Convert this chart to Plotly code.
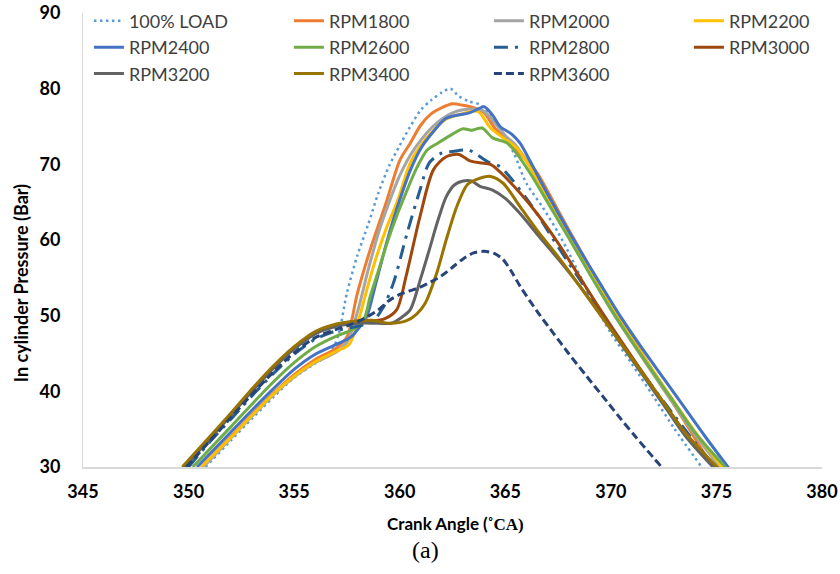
import plotly.graph_objects as go

# ---- data (crank angle in deg, pressure in bar) ----
LOAD100_X = [350.8, 352, 353, 354, 355, 356, 356.7, 357.1, 357.5, 358, 358.5, 359, 359.5, 360, 360.5, 361, 361.5, 362, 362.4, 362.8, 363.3, 363.8, 364.3, 364.8, 365.4, 366, 366.8, 367.5, 368.1, 369, 370, 371, 372, 373, 374.3]
LOAD100_Y = [30, 33.5, 36.4, 39.2, 41.8, 43.7, 45, 47.5, 53, 58, 62, 66.3, 69.8, 72.5, 75, 77.2, 78.5, 79.5, 80, 79, 78.3, 77.9, 76.5, 74.5, 71.5, 67.5, 64.2, 61, 57.8, 52.7, 47.7, 43.6, 39.4, 35.1, 30]

RPM1800_X = [350.6, 352, 353, 354, 355, 356, 357, 357.5, 358, 358.6, 359.4, 360, 360.5, 361, 361.5, 362, 362.5, 363, 363.5, 364, 364.5, 365.2, 366, 366.5, 367.5, 368.5, 369.5, 370.5, 371.5, 372.5, 373.5, 374.7]
RPM1800_Y = [30, 34, 36.9, 39.7, 42.2, 44.2, 45.7, 47.2, 53, 58.7, 65.3, 70.5, 72.8, 75.2, 76.7, 77.5, 78, 77.8, 77.5, 76.8, 74.8, 72.8, 70.5, 68.9, 63.9, 58.9, 54, 49.3, 44.9, 40.4, 36, 30.5]

RPM2000_X = [350.7, 352, 353, 354, 355, 356, 357, 357.5, 358, 358.5, 359, 359.5, 360, 360.5, 361, 361.5, 362, 362.5, 363, 363.5, 364, 364.5, 365, 365.5, 366, 367, 368, 369, 370, 371, 372, 373, 374, 375.3]
RPM2000_Y = [30, 33.8, 36.7, 39.5, 41.9, 43.8, 45.2, 46.5, 50.5, 56, 61, 65, 68.5, 71.2, 73.2, 74.8, 76, 76.8, 77.2, 77.3, 77, 75.5, 73.8, 72.5, 70.5, 65.5, 60.5, 55.6, 50.8, 46.5, 42.3, 38.2, 34.2, 29.5]

RPM2200_X = [350.6, 352, 353, 354, 355, 356, 357, 357.6, 358.1, 358.5, 358.9, 359.4, 359.9, 360.5, 361, 361.5, 362.2, 363, 363.7, 364.3, 365, 365.6, 366.2, 367, 368, 369, 370, 371, 372, 373, 374, 375.4]
RPM2200_Y = [30, 33.9, 36.8, 39.6, 42, 43.9, 45.3, 46.2, 49.9, 54, 57.8, 61.8, 65.2, 70.2, 72.5, 74.2, 76, 76.7, 77, 74.8, 73.3, 72, 69.5, 65.5, 60.8, 56, 51.3, 46.9, 42.7, 38.6, 34.6, 29.5]

RPM2400_X = [350.4, 352, 353, 354, 355, 356, 357, 357.7, 358.1, 358.44, 358.8, 359.2, 359.6, 360, 360.5, 361, 361.5, 362.2, 363.3, 363.7, 364, 364.4, 364.75, 365.3, 365.7, 366.2, 366.65, 367.5, 368.5, 369.5, 370.5, 371.5, 372.5, 373.5, 374.5, 375.6]
RPM2400_Y = [30, 34.6, 37.5, 40.3, 42.9, 44.9, 46.2, 47.2, 48.5, 49.9, 53.5, 57.8, 61.8, 65.3, 69.2, 72.1, 74, 76.1, 76.8, 77.3, 77.6, 76.5, 75, 74, 72.8, 70.3, 67.9, 63.6, 58.8, 54.2, 49.7, 45.6, 41.7, 37.8, 33.9, 29.8]

RPM2600_X = [350.2, 352, 353, 354, 355, 356, 357, 357.8, 358.3, 358.6, 359, 359.4, 359.9, 360.35, 360.8, 361.3, 361.8, 362.5, 363, 363.4, 363.9, 364.4, 365.1, 365.7, 366.3, 367, 368, 369, 370, 371, 372, 373, 374, 375.55]
RPM2600_Y = [30, 35.3, 38.3, 41.2, 43.8, 45.9, 47.3, 48.2, 49.5, 52.5, 56, 59.6, 63.5, 66.6, 69.5, 71.9, 72.8, 74, 74.7, 74.5, 74.8, 73.5, 72.8, 70.8, 68.3, 65, 60.3, 55.5, 50.9, 46.6, 42.5, 38.5, 34.5, 29.6]

RPM2800_X = [350, 351, 352, 353, 354, 355, 356, 357, 358, 358.7, 359.2, 359.7, 360.35, 360.96, 361.4, 362, 362.5, 363.25, 363.7, 364.2, 364.75, 365.2, 366, 366.5, 367.2, 367.9, 369, 370, 371, 372, 373, 374, 375.1]
RPM2800_Y = [30, 33.3, 36.3, 39.4, 42.3, 44.9, 46.9, 48, 48.6, 49.2, 51, 54.3, 60.9, 66.6, 70.2, 71.5, 71.7, 71.9, 71.2, 70.3, 69.7, 68.4, 65.5, 63.5, 60.4, 57.4, 52.8, 48.5, 44.4, 40.5, 36.8, 33.2, 29.5]

RPM3000_X = [349.75, 351, 352, 353, 354, 355, 356, 357, 358, 358.7, 359.3, 359.86, 360.3, 360.96, 361.6, 362.2, 362.8, 363.3, 363.8, 364.3, 364.75, 365.7, 366.5, 367.5, 368.5, 369.5, 370.5, 371.5, 372.5, 373.5, 375.1]
RPM3000_Y = [30, 33.8, 36.9, 40.1, 43.1, 45.7, 47.7, 48.8, 49.3, 49.3, 49.6, 50.8, 55.2, 63.1, 69.3, 71, 71.3, 70.5, 70.2, 70, 69, 66.2, 63.5, 59.6, 55.2, 50.8, 46.6, 42.5, 38.5, 34.6, 29.5]

RPM3200_X = [349.8, 351, 352, 353, 354, 355, 356, 357, 358, 359, 359.6, 360.1, 360.5, 361, 361.4, 361.8, 362.2, 362.6, 363, 363.4, 363.8, 364.4, 365, 365.7, 366.5, 367.5, 368.5, 369.5, 370.5, 371.5, 372.5, 373.5, 375]
RPM3200_Y = [30, 33.7, 36.8, 40, 43, 45.6, 47.6, 48.6, 49, 49, 49, 49.8, 50.8, 55, 58.7, 62.5, 65.7, 67.3, 67.8, 67.8, 67.1, 66.6, 65.5, 63.5, 60.8, 57.5, 54, 50.2, 46.2, 42.2, 38.2, 34.2, 29.5]

RPM3400_X = [349.7, 351, 352, 353, 354, 355, 356, 357, 358, 358.7, 359.5, 360.3, 360.8, 361.2, 361.75, 362.2, 362.7, 363.2, 363.65, 364.3, 364.9, 365.7, 366.5, 367.5, 368.5, 369.5, 370.5, 371.5, 372.5, 373.5, 375.2]
RPM3400_Y = [30, 34, 37.1, 40.3, 43.3, 45.9, 47.9, 48.9, 49.3, 49.4, 49, 49.3, 50.2, 51.6, 55.6, 60, 64.4, 67.3, 68, 68.4, 67.5, 64.4, 61.3, 57.8, 54, 50.1, 46.3, 42.4, 38.5, 34.6, 29.5]

RPM3600_X = [349.9, 351, 352, 353, 354, 355, 356, 357, 357.65, 358.3, 359, 359.5, 360, 360.5, 361, 361.5, 362, 362.5, 363, 363.5, 364, 364.5, 364.9, 365.3, 365.7, 366.5, 367.3, 368, 368.85, 369.6, 370.4, 371.2, 372.4]
RPM3600_Y = [30, 33.4, 36.5, 39.6, 42.5, 45.1, 47.1, 48.2, 48.8, 49.6, 50.8, 52, 52.8, 53.3, 53.8, 54.5, 55.3, 56.4, 57.5, 58.3, 58.5, 58.2, 57.4, 55.8, 53.9, 50.6, 47.6, 45, 42, 39.4, 36.6, 33.9, 30]

SERIES_NAMES = ["100% LOAD", "RPM1800", "RPM2000", "RPM2200", "RPM2400", "RPM2600",
                "RPM2800", "RPM3000", "RPM3200", "RPM3400", "RPM3600"]
X_TICKS = [345, 350, 355, 360, 365, 370, 375, 380]
Y_TICKS = [30, 40, 50, 60, 70, 80, 90]

series_x = [LOAD100_X, RPM1800_X, RPM2000_X, RPM2200_X, RPM2400_X, RPM2600_X,
            RPM2800_X, RPM3000_X, RPM3200_X, RPM3400_X, RPM3600_X]
series_y = [LOAD100_Y, RPM1800_Y, RPM2000_Y, RPM2200_Y, RPM2400_Y, RPM2600_Y,
            RPM2800_Y, RPM3000_Y, RPM3200_Y, RPM3400_Y, RPM3600_Y]

colors = ["#5B9BD5", "#ED7D31", "#A5A5A5", "#FFC000", "#4472C4", "#70AD47",
          "#255E91", "#9E480E", "#636363", "#997300", "#264478"]
dashes = ["2.5px,3.5px", "solid", "solid", "solid", "solid", "solid",
          "14px,7px,3px,7px", "solid", "solid", "solid", "8px,4px"]
widths = [2.5, 3, 3, 3, 3, 3, 3, 3, 3, 3, 3]

FONT = "Lato, 'Liberation Sans', sans-serif"

# plot area: page px left 83, top 13, width 739, height 454
fig = go.Figure()
for name, xs, ys, c, d, w in zip(SERIES_NAMES, series_x, series_y, colors, dashes, widths):
    fig.add_trace(go.Scatter(
        x=xs, y=ys, name=name, mode="lines",
        line=dict(color=c, width=w, dash=d, shape="spline", smoothing=0.8),
    ))

fig.update_layout(
    width=840, height=574,
    margin=dict(l=83, r=18, t=13, b=107, autoexpand=False),
    paper_bgcolor="white", plot_bgcolor="white",
    font=dict(family=FONT, color="#404040"),
    showlegend=True,
    legend=dict(
        orientation="h", x=-0.0001, xanchor="left", y=1.023, yanchor="top",
        entrywidth=149, entrywidthmode="pixels", indentation=6,
        bgcolor="rgba(0,0,0,0)", font=dict(family=FONT, size=18, color="#404040"),
        tracegroupgap=0,
    ),
    xaxis=dict(
        range=[345, 380], tickvals=X_TICKS, ticktext=[str(v) for v in X_TICKS],
        showgrid=False, zeroline=False, showline=True, linecolor="#D9D9D9", linewidth=1.5,
        ticks="", tickfont=dict(family=FONT, size=18, color="#000000", weight="bold"),
        ticklabelstandoff=8, ticklabeloverflow="allow",
    ),
    yaxis=dict(
        range=[30, 90], tickvals=Y_TICKS, ticktext=[str(v) for v in Y_TICKS],
        showgrid=False, zeroline=False, showline=True, linecolor="#D9D9D9", linewidth=1,
        ticks="", tickfont=dict(family=FONT, size=18, color="#000000", weight="bold"),
        ticklabelstandoff=18, ticklabeloverflow="allow",
    ),
    annotations=[
        dict(text="In cylinder Pressure (Bar)", textangle=-90, xref="paper", yref="paper",
             x=-0.0839, y=0.405, showarrow=False, xanchor="center", yanchor="middle",
             font=dict(family=FONT, size=18, color="#000000", weight="bold")),
        dict(text="Crank Angle (<span style='font-family:\"Liberation Serif\"'>˚CA)</span>",
             xref="paper", yref="paper", x=(455 - 83) / 739, y=-(523 - 467) / 454,
             showarrow=False, xanchor="center", yanchor="middle",
             font=dict(family=FONT, size=17, color="#000000", weight="bold")),
        dict(text="(a)", xref="paper", yref="paper", x=(425 - 83) / 739, y=-(550 - 467) / 454,
             showarrow=False, xanchor="center", yanchor="middle",
             font=dict(family="'Liberation Serif', 'Times New Roman', serif", size=24, color="#000000")),
    ],
)

fig.write_html("out.html", config={"displayModeBar": False},
               post_script="document.body.style.margin='0px';")
